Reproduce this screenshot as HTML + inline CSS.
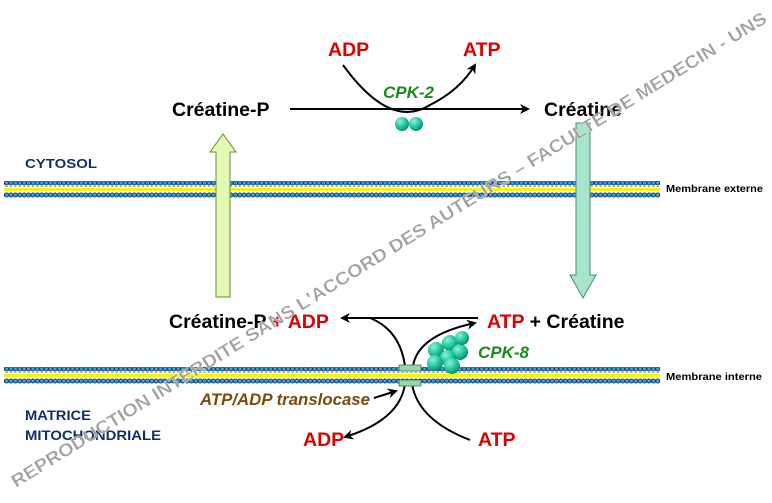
<!DOCTYPE html>
<html><head><meta charset="utf-8"><style>
html,body{margin:0;padding:0;background:#fff;}
svg{display:block;font-family:"Liberation Sans",Arial,sans-serif;}
</style></head><body>
<svg width="772" height="503" viewBox="0 0 772 503" xmlns="http://www.w3.org/2000/svg">
<defs>
<pattern id="bead" x="0" y="0" width="4.4" height="6" patternUnits="userSpaceOnUse">
<circle cx="2.2" cy="3" r="2.1" fill="#3a9fe0" stroke="#0a2a50" stroke-width="0.8"/>
</pattern>
<marker id="ah" markerWidth="10" markerHeight="10" refX="8" refY="5" orient="auto" markerUnits="userSpaceOnUse">
<path d="M0,0 L10,5 L0,10 L3,5 Z" fill="#000"/>
</marker>
<radialGradient id="ball" cx="0.35" cy="0.3" r="0.7">
<stop offset="0" stop-color="#8ff0d8"/><stop offset="0.6" stop-color="#1fc8a0"/><stop offset="1" stop-color="#0a8f70"/>
</radialGradient>
</defs>

<rect x="4" y="181" width="656" height="6" fill="url(#bead)"/>
<rect x="4" y="188" width="656" height="3" fill="#f5f500"/>
<rect x="4" y="192" width="656" height="6" fill="url(#bead)"/>
<text x="666" y="192" font-size="10" font-weight="bold" textLength="97" lengthAdjust="spacingAndGlyphs">Membrane externe</text>

<rect x="4" y="367" width="656" height="6" fill="url(#bead)"/>
<rect x="4" y="374" width="656" height="3" fill="#f5f500"/>
<rect x="4" y="378" width="656" height="6" fill="url(#bead)"/>
<text x="666" y="380" font-size="10" font-weight="bold" textLength="96" lengthAdjust="spacingAndGlyphs">Membrane interne</text>

<path d="M216,297 L216,152 L210,152 L223,134 L236,152 L230,152 L230,297 Z" fill="#e2fbb0" stroke="#6a8a40" stroke-width="1"/>
<path d="M576,123 L576,275 L570,275 L583,298 L596,275 L590,275 L590,123 Z" fill="#a8e4cc" stroke="#4a8a74" stroke-width="1"/>

<text x="25" y="168" font-size="13" font-weight="bold" fill="#10306a" textLength="72" lengthAdjust="spacingAndGlyphs">CYTOSOL</text>
<text x="25" y="420" font-size="14" font-weight="bold" fill="#10306a" textLength="66" lengthAdjust="spacingAndGlyphs">MATRICE</text>
<text x="25" y="440" font-size="14" font-weight="bold" fill="#10306a" textLength="136" lengthAdjust="spacingAndGlyphs">MITOCHONDRIALE</text>

<text x="172" y="116" font-size="19.5" font-weight="bold">Créatine-P</text>
<text x="544" y="116" font-size="19.5" font-weight="bold">Créatine</text>
<line x1="290" y1="109" x2="528" y2="109" stroke="#000" stroke-width="2" marker-end="url(#ah)"/>
<text x="328" y="56" font-size="19.5" font-weight="bold" fill="#d00">ADP</text>
<text x="463" y="56" font-size="19.5" font-weight="bold" fill="#d00">ATP</text>
<path d="M343,65 Q390,130 430,105 Q460,90 475,65" fill="none" stroke="#000" stroke-width="2" marker-end="url(#ah)"/>
<text x="383" y="98" font-size="17" font-weight="bold" font-style="italic" fill="#1a8a1a">CPK-2</text>
<circle cx="402" cy="124" r="7" fill="url(#ball)"/>
<circle cx="416" cy="124" r="7" fill="url(#ball)"/>

<text x="169" y="328" font-size="19.5" font-weight="bold">Créatine-P <tspan fill="#d00">+ ADP</tspan></text>
<text x="487" y="328" font-size="19.5" font-weight="bold"><tspan fill="#d00">ATP</tspan> + Créatine</text>
<line x1="478" y1="318" x2="342" y2="318" stroke="#000" stroke-width="2" marker-end="url(#ah)"/>
<path d="M370,318 Q400,330 405,366" fill="none" stroke="#000" stroke-width="2"/>
<path d="M413,366 Q418,335 475,323" fill="none" stroke="#000" stroke-width="2" marker-end="url(#ah)"/>
<path d="M405,384 Q400,420 345,437" fill="none" stroke="#000" stroke-width="2" marker-end="url(#ah)"/>
<path d="M412,384 Q418,420 470,440" fill="none" stroke="#000" stroke-width="2"/>
<rect x="399" y="365" width="22" height="6" fill="#9cd6a8" stroke="#3a7a4a" stroke-width="0.8"/>
<rect x="399" y="380" width="22" height="6" fill="#9cd6a8" stroke="#3a7a4a" stroke-width="0.8"/>
<g>
<circle cx="436" cy="350" r="8" fill="url(#ball)"/>
<circle cx="450" cy="343" r="8" fill="url(#ball)"/>
<circle cx="460" cy="352" r="8" fill="url(#ball)"/>
<circle cx="448" cy="358" r="8" fill="url(#ball)"/>
<circle cx="435" cy="363" r="8" fill="url(#ball)"/>
<circle cx="452" cy="366" r="8" fill="url(#ball)"/>
<circle cx="462" cy="338" r="7" fill="url(#ball)"/>
</g>
<text x="478" y="358" font-size="17" font-weight="bold" font-style="italic" fill="#1a8a1a">CPK-8</text>
<text x="200" y="405" font-size="16.5" font-weight="bold" font-style="italic" fill="#7a4a10" textLength="170" lengthAdjust="spacingAndGlyphs">ATP/ADP translocase</text>
<line x1="374" y1="398" x2="396" y2="391" stroke="#000" stroke-width="2" marker-end="url(#ah)"/>
<text x="303" y="446" font-size="19.5" font-weight="bold" fill="#d00">ADP</text>
<text x="478" y="446" font-size="19.5" font-weight="bold" fill="#d00">ATP</text>

<text x="0" y="0" font-size="18" font-weight="bold" fill="#a0a0a0" stroke="#fff" stroke-width="0.3" transform="translate(16,488) rotate(-31.8)" textLength="885" lengthAdjust="spacingAndGlyphs">REPRODUCTION INTERDITE SANS L'ACCORD DES AUTEURS – FACULTE DE MEDECIN - UNS</text>
</svg>
</body></html>
